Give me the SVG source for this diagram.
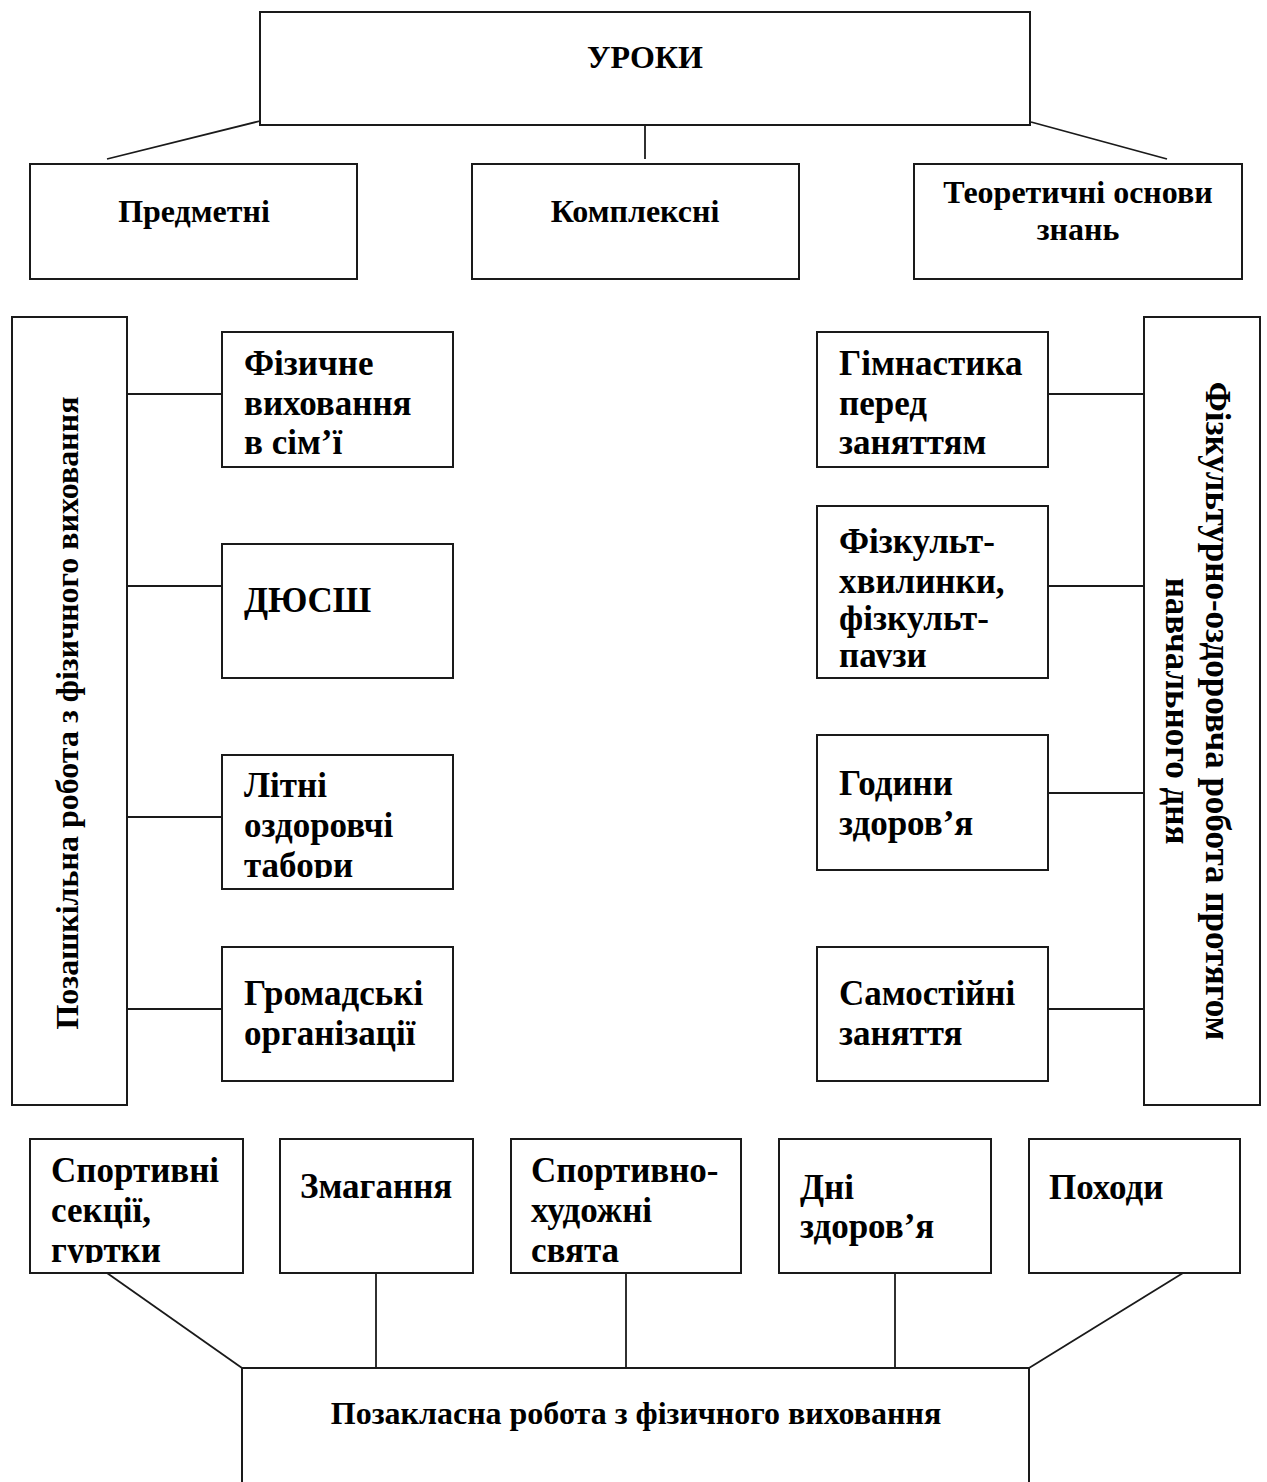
<svg xmlns="http://www.w3.org/2000/svg" width="1267" height="1482" viewBox="0 0 1267 1482">
<style>
  .box { fill: #ffffff; stroke: #1a1a1a; stroke-width: 2; }
  .ln { fill: none; stroke: #1a1a1a; stroke-width: 1.8; }
  text { font-family: "Liberation Serif", "Times New Roman", serif; font-weight: bold; font-size: 32px; fill: #000000; }
  .c { text-anchor: middle; }
  .big { font-size: 35px; }
</style>
<defs>
  <clipPath id="clipTabory"><rect x="222" y="755" width="231" height="123"/></clipPath>
  <clipPath id="clipPauzy"><rect x="817" y="506" width="231" height="162"/></clipPath>
  <clipPath id="clipHurtky"><rect x="30" y="1139" width="213" height="124"/></clipPath>
</defs>
<rect x="0" y="0" width="1267" height="1482" fill="#ffffff"/>

<g id="connectors">
  <line class="ln" x1="260" y1="121" x2="107" y2="159"/>
  <line class="ln" x1="645" y1="121" x2="645" y2="159"/>
  <line class="ln" x1="1031" y1="122" x2="1167" y2="159"/>
  <line class="ln" x1="127" y1="394" x2="222" y2="394"/>
  <line class="ln" x1="127" y1="586" x2="222" y2="586"/>
  <line class="ln" x1="127" y1="817" x2="222" y2="817"/>
  <line class="ln" x1="127" y1="1009" x2="222" y2="1009"/>
  <line class="ln" x1="1048" y1="394" x2="1144" y2="394"/>
  <line class="ln" x1="1048" y1="586" x2="1144" y2="586"/>
  <line class="ln" x1="1048" y1="793" x2="1144" y2="793"/>
  <line class="ln" x1="1048" y1="1009" x2="1144" y2="1009"/>
  <line class="ln" x1="107" y1="1273" x2="242" y2="1368"/>
  <line class="ln" x1="376" y1="1273" x2="376" y2="1368"/>
  <line class="ln" x1="626" y1="1273" x2="626" y2="1368"/>
  <line class="ln" x1="895" y1="1273" x2="895" y2="1368"/>
  <line class="ln" x1="1183" y1="1273" x2="1029" y2="1368"/>
</g>

<g id="uroky">
  <rect class="box" x="260" y="12" width="770" height="113"/>
  <text class="c" x="645" y="68">УРОКИ</text>
</g>
<g id="predmetni">
  <rect class="box" x="30" y="164" width="327" height="115"/>
  <text class="c" x="194" y="222">Предметні</text>
</g>
<g id="kompleksni">
  <rect class="box" x="472" y="164" width="327" height="115"/>
  <text class="c" x="635" y="222">Комплексні</text>
</g>
<g id="teoretychni">
  <rect class="box" x="914" y="164" width="328" height="115"/>
  <text class="c" x="1078" y="203">Теоретичні основи</text>
  <text class="c" x="1078" y="240">знань</text>
</g>

<g id="pozashkilna">
  <rect class="box" x="12" y="317" width="115" height="788"/>
  <text class="c" transform="translate(78,713) rotate(-90)">Позашкільна робота з фізичного виховання</text>
</g>
<g id="fizkult-ozdorovcha">
  <rect class="box" x="1144" y="317" width="116" height="788"/>
  <text class="c big" transform="translate(1206,711) rotate(90)">Фізкультурно-оздоровча робота протягом</text>
  <text class="c big" transform="translate(1166,711) rotate(90)">навчального дня</text>
</g>

<g id="fizychne-simya" class="big">
  <rect class="box" x="222" y="332" width="231" height="135"/>
  <text class="big" x="244" y="375">Фізичне</text>
  <text class="big" x="244" y="415">виховання</text>
  <text class="big" x="244" y="454">в сім’ї</text>
</g>
<g id="dyussh">
  <rect class="box" x="222" y="544" width="231" height="134"/>
  <text class="big" x="244" y="612">ДЮСШ</text>
</g>
<g id="litni-tabory">
  <rect class="box" x="222" y="755" width="231" height="134"/>
  <text class="big" x="244" y="797">Літні</text>
  <text class="big" x="244" y="837">оздоровчі</text>
  <text class="big" x="244" y="877" clip-path="url(#clipTabory)">табори</text>
</g>
<g id="hromadski">
  <rect class="box" x="222" y="947" width="231" height="134"/>
  <text class="big" x="244" y="1005">Громадські</text>
  <text class="big" x="244" y="1045">організації</text>
</g>

<g id="gimnastyka">
  <rect class="box" x="817" y="332" width="231" height="135"/>
  <text class="big" x="839" y="375">Гімнастика</text>
  <text class="big" x="839" y="415">перед</text>
  <text class="big" x="839" y="454">заняттям</text>
</g>
<g id="fizkultkhvylynky">
  <rect class="box" x="817" y="506" width="231" height="172"/>
  <text class="big" x="839" y="553">Фізкульт-</text>
  <text class="big" x="839" y="593">хвилинки,</text>
  <text class="big" x="839" y="630">фізкульт-</text>
  <text class="big" x="839" y="667" clip-path="url(#clipPauzy)">паузи</text>
</g>
<g id="hodyny">
  <rect class="box" x="817" y="735" width="231" height="135"/>
  <text class="big" x="839" y="795">Години</text>
  <text class="big" x="839" y="835">здоров’я</text>
</g>
<g id="samostiyni">
  <rect class="box" x="817" y="947" width="231" height="134"/>
  <text class="big" x="839" y="1005">Самостійні</text>
  <text class="big" x="839" y="1045">заняття</text>
</g>

<g id="sektsii">
  <rect class="box" x="30" y="1139" width="213" height="134"/>
  <text class="big" x="51" y="1182">Спортивні</text>
  <text class="big" x="51" y="1222">секції,</text>
  <text class="big" x="51" y="1262" clip-path="url(#clipHurtky)">гуртки</text>
</g>
<g id="zmahannia">
  <rect class="box" x="280" y="1139" width="193" height="134"/>
  <text class="big" x="300" y="1198">Змагання</text>
</g>
<g id="sviata">
  <rect class="box" x="511" y="1139" width="230" height="134"/>
  <text class="big" x="531" y="1182">Спортивно-</text>
  <text class="big" x="531" y="1222">художні</text>
  <text class="big" x="531" y="1262">свята</text>
</g>
<g id="dni-zdorovia">
  <rect class="box" x="779" y="1139" width="212" height="134"/>
  <text class="big" x="800" y="1199">Дні</text>
  <text class="big" x="800" y="1238">здоров’я</text>
</g>
<g id="pokhody">
  <rect class="box" x="1029" y="1139" width="211" height="134"/>
  <text class="big" x="1049" y="1199">Походи</text>
</g>

<g id="pozaklasna">
  <rect class="box" x="242" y="1368" width="787" height="130"/>
  <text class="c" x="636" y="1424">Позакласна робота з фізичного виховання</text>
</g>
</svg>
